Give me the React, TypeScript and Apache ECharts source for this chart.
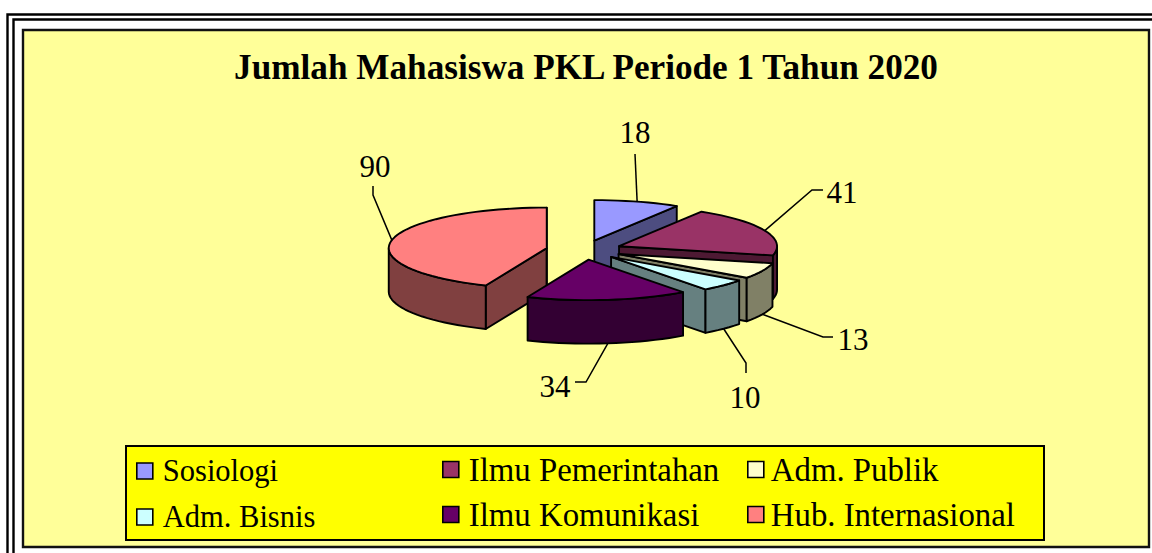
import React, { useEffect, useRef } from "react";
import * as echarts from "echarts";

const titleText = "Jumlah Mahasiswa PKL Periode 1 Tahun 2020";
const categories = ["Sosiologi", "Ilmu Pemerintahan", "Adm. Publik", "Adm. Bisnis", "Ilmu Komunikasi", "Hub. Internasional"];
const values = [18, 41, 13, 10, 34, 90];
const topColors = ["#9999FF", "#993366", "#FFFFCC", "#CCFFFF", "#660066", "#FF8080"];
const wallColors = ["#4D4D80", "#4D1933", "#808066", "#668080", "#330033", "#804040"];
// leader elbows and label centres, per slice
const leaderElbows = [
  [[635, 154]],
  [[812, 190], [823, 190]],
  [[823, 337], [833, 337]],
  [[746, 363], [746, 373]],
  [[586, 382], [575, 382]],
  [[373, 195], [373, 186]],
];
const labelCentres = [[635, 132], [842, 192], [853, 339], [745, 397], [555, 386], [375, 166]];
const legendColumns = [[0, 3], [1, 4], [2, 5]];
const legendLefts = [136, 442, 747];
const legendFontSizes = [30.5, 32.8, 32.8];
const legendTops = [455, 453, 453];
const legendGaps = [14, 12, 12];
const legendTextGaps = [5, 5, 2];

const SERIF = "Liberation Serif";
const CX = 584, CY = 250, R = 158, RY = 40.5, EXPLODE = 38, DEPTH = 43.5;
const total = values.reduce((a, b) => a + b, 0);
const rad = (d: number) => (d * Math.PI) / 180;

const slices = values.map((v, i) => {
  const before = values.slice(0, i).reduce((a, b) => a + b, 0);
  const a = (before / total) * 360;
  const b = ((before + v) / total) * 360;
  const m = (a + b) / 2;
  const ax = CX + (EXPLODE * Math.sin(rad(m)));
  const ay = CY - (EXPLODE * (RY / R) * Math.cos(rad(m)));
  return { i, a, b, m, ax, ay };
});

const rim = (s: any, t: number, dz = 0) => [s.ax + R * Math.sin(rad(t)), s.ay - RY * Math.cos(rad(t)) + dz];
const arc = (s: any, from: number, to: number, dz = 0) => {
  const n = Math.max(2, Math.ceil((to - from) / 3));
  const pts: number[][] = [];
  for (let k = 0; k <= n; k++) pts.push(rim(s, from + ((to - from) * k) / n, dz));
  return pts;
};

const edge = { stroke: "#000", lineWidth: 1.9, lineJoin: "round" as const };

function renderSlice(s: any) {
  const i = s.i;
  const wall = { ...edge, fill: wallColors[i] };
  const children: any[] = [];
  const radial = (t: number) => {
    const p = rim(s, t);
    children.push({ type: "polygon", shape: { points: [[s.ax, s.ay], p, [p[0], p[1] + DEPTH], [s.ax, s.ay + DEPTH]] }, style: wall });
  };
  if (Math.sin(rad(s.a)) < 0) radial(s.a);
  if (Math.sin(rad(s.b)) > -1e-6) radial(s.b);
  const f = Math.max(s.a, 90), t = Math.min(s.b, 270);
  if (t > f) {
    children.push({ type: "polygon", shape: { points: [...arc(s, f, t), ...arc(s, f, t, DEPTH).reverse()] }, style: wall });
  }
  children.push({ type: "polygon", shape: { points: [[s.ax, s.ay], ...arc(s, s.a, s.b)] }, style: { ...edge, fill: topColors[i] } });
  const below = s.m > 90 && s.m < 270;
  const anchor = rim(s, s.m, below ? DEPTH : 0);
  children.push({ type: "polyline", shape: { points: [anchor, ...leaderElbows[i]] }, style: { stroke: "#000", lineWidth: 1.5, fill: "none" } });
  children.push({
    type: "text",
    style: { text: String(values[i]), x: labelCentres[i][0], y: labelCentres[i][1], fill: "#000", font: `31px "${SERIF}"`, align: "center", verticalAlign: "middle" },
  });
  return { type: "group", children };
}

const frameLine = (pts: number[][], width: number) => ({
  type: "polyline",
  silent: true,
  shape: { points: pts },
  style: { stroke: "#000", lineWidth: width, fill: "none" },
});

export default function App() {
  const ref = useRef<HTMLDivElement>(null);
  useEffect(() => {
    document.body.style.margin = "0";
    document.body.style.background = "#fff";
    const chart = echarts.init(ref.current!, null, { renderer: "svg" });
    const order = [...slices].sort((p, q) => p.ay - q.ay);
    chart.setOption({
      animation: false,
      backgroundColor: "#fff",
      title: {
        text: titleText,
        left: 581,
        top: 45,
        textAlign: "center",
        textStyle: { fontFamily: SERIF, fontWeight: "bold", fontSize: 35.2, color: "#000" },
      },
      graphic: [
        frameLine([[7.5, 553], [7.5, 14.5], [1152, 14.5]], 2.4),
        frameLine([[13.5, 553], [13.5, 19.5], [1152, 19.5]], 2.4),
        { type: "rect", silent: true, shape: { x: 23, y: 30, width: 1126, height: 517 }, style: { fill: "#FFFF99", stroke: "#111", lineWidth: 2.4 } },
        { type: "rect", silent: true, shape: { x: 126, y: 446, width: 918, height: 94 }, style: { fill: "#FFFF00", stroke: "#000", lineWidth: 2 } },
      ],
      legend: legendColumns.map((col, c) => ({
        show: true,
        orient: "vertical",
        left: legendLefts[c],
        top: legendTops[c],
        padding: 0,
        itemGap: legendGaps[c],
        itemWidth: 16,
        itemHeight: 16,
        selectedMode: false,
        z: 20,
        icon: "rect",
        data: col.map((i) => categories[i]),
        itemStyle: { borderColor: "#000", borderWidth: 1.6 },
        textStyle: { fontFamily: SERIF, fontSize: legendFontSizes[c], lineHeight: 32, height: 32, color: "#000", padding: [0, 0, 0, legendTextGaps[c]] },
      })),
      series: order.map((s) => ({
        type: "custom",
        name: categories[s.i],
        coordinateSystem: "none",
        silent: true,
        itemStyle: { color: topColors[s.i] },
        data: [values[s.i]],
        renderItem: () => renderSlice(s),
      })),
    });
    return () => chart.dispose();
  }, []);
  return <div ref={ref} style={{ position: "absolute", left: 0, top: 0, width: 1152, height: 553 }} />;
}
